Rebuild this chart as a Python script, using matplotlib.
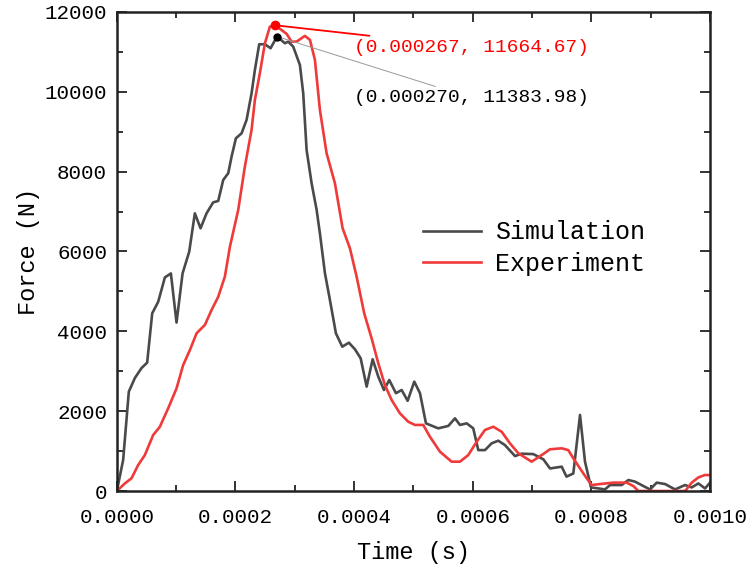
import matplotlib
matplotlib.use("Agg")
import matplotlib.pyplot as plt
from matplotlib.ticker import MultipleLocator, FormatStrFormatter

# ---- data ----
sim_t = [0.0, 0.0000106, 0.0000202, 0.0000304, 0.0000416, 0.0000511, 0.0000596, 0.0000697,
         0.000081, 0.0000911, 0.0001006, 0.0001108, 0.000122, 0.0001315, 0.0001411, 0.0001512,
         0.0001624, 0.0001709, 0.0001793, 0.0001878, 0.0001934, 0.0002007, 0.0002103, 0.0002187,
         0.0002271, 0.0002327, 0.00024, 0.0002496, 0.0002592, 0.00027, 0.0002833, 0.0002889,
         0.0002973, 0.0003086, 0.0003142, 0.0003199, 0.0003283, 0.0003368, 0.0003423, 0.0003508,
         0.0003592, 0.0003693, 0.00038, 0.0003912, 0.0004014, 0.000411, 0.0004211, 0.0004312,
         0.0004407, 0.0004503, 0.0004592, 0.0004705, 0.0004801, 0.0004902, 0.0005014, 0.000511,
         0.0005211, 0.0005418, 0.0005587, 0.00057, 0.0005784, 0.0005897, 0.0006008, 0.0006093,
         0.0006206, 0.0006318, 0.000643, 0.0006543, 0.0006712, 0.0006824, 0.000702, 0.0007189,
         0.0007302, 0.0007499, 0.000758, 0.0007695, 0.0007808, 0.0007892, 0.0007993, 0.0008117,
         0.0008229, 0.0008314, 0.0008511, 0.0008623, 0.0008735, 0.0008876, 0.0008988, 0.0009101,
         0.0009241, 0.000941, 0.0009578, 0.0009691, 0.0009803, 0.0009916, 0.001]
sim_f = [0, 775, 2490, 2830, 3080, 3215, 4450, 4740,
         5350, 5450, 4220, 5450, 5995, 6955, 6580, 6955,
         7230, 7265, 7790, 7960, 8375, 8835, 8960, 9295,
         9960, 10545, 11190, 11190, 11090, 11383.98, 11215, 11255,
         11130, 10670, 9960, 8540, 7710, 7040, 6455, 5455,
         4785, 3950, 3615, 3715, 3550, 3325, 2615, 3300,
         2865, 2530, 2780, 2450, 2530, 2260, 2740, 2450,
         1695, 1570, 1630, 1820, 1655, 1695, 1570, 1025,
         1025, 1195, 1260, 1150, 875, 935, 925, 795,
         565, 610, 360, 440, 1905, 735, 90, 65,
         40, 150, 150, 275, 235, 125, 40, 210,
         175, 40, 150, 90, 190, 65, 210]

exp_t = [0.0, 0.0000135, 0.0000248, 0.0000359, 0.0000472, 0.0000612, 0.0000725, 0.0000865,
         0.0001006, 0.0001118, 0.0001231, 0.0001344, 0.0001484, 0.0001597, 0.0001709, 0.0001821,
         0.0001906, 0.0002046, 0.0002158, 0.0002271, 0.0002327, 0.0002411, 0.0002496, 0.000258,
         0.000267, 0.0002862, 0.0002946, 0.000303, 0.000317, 0.0003255, 0.0003339, 0.0003423,
         0.0003536, 0.0003676, 0.0003806, 0.0003929, 0.0004042, 0.000417, 0.0004295, 0.0004407,
         0.0004519, 0.0004632, 0.0004772, 0.0004913, 0.0005025, 0.0005165, 0.0005278, 0.0005447,
         0.0005644, 0.0005784, 0.0005924, 0.0006066, 0.0006206, 0.0006346, 0.0006487, 0.0006627,
         0.0006768, 0.0006993, 0.0007162, 0.0007302, 0.0007499, 0.000761, 0.0007695, 0.0007808,
         0.000792, 0.0008005, 0.0008145, 0.0008369, 0.0008595, 0.0008707, 0.0008791, 0.000958,
         0.0009691, 0.0009803, 0.000991, 0.001]
exp_f = [0, 190, 320, 650, 900, 1400, 1610, 2070,
         2570, 3155, 3530, 3950, 4160, 4535, 4865, 5370,
         6120, 7040, 8125, 9045, 9795, 10465, 11215, 11630,
         11664.67, 11450, 11255, 11255, 11400, 11300, 10800, 9545,
         8460, 7710, 6580, 6080, 5370, 4450, 3825, 3200,
         2655, 2280, 1945, 1735, 1655, 1655, 1360, 985,
         735, 735, 900, 1235, 1530, 1610, 1485, 1195,
         945, 735, 900, 1045, 1070, 1025, 820, 565,
         320, 150, 175, 210, 210, 125, 0, 0,
         210, 340, 400, 400]

peak_exp = (0.000267, 11664.67)
peak_sim = (0.000270, 11383.98)
labels = ["Simulation", "Experiment"]

FONT = "Liberation Mono"
plt.rcParams["font.family"] = [FONT, "DejaVu Sans"]

fig = plt.figure(figsize=(7.49, 5.67), dpi=100)
ax = fig.add_axes([0.156, 0.134, 0.792, 0.845])

sim_color = "#4a4a4a"
exp_color = "#f03a3a"
ax.plot(sim_t, sim_f, color=sim_color, lw=1.9, label=labels[0])
ax.plot(exp_t, exp_f, color=exp_color, lw=1.9, label=labels[1])

ax.plot([peak_exp[0]], [peak_exp[1]], "o", color="#ff0000", ms=6, zorder=5)
ax.plot([peak_sim[0]], [peak_sim[1]], "o", color="black", ms=5, zorder=5)

ax.annotate("(%.6f, %.2f)" % peak_exp, xy=peak_exp, xytext=(0.000399, 11120),
            color="#ff0000", fontsize=14, ha="left", va="center",
            arrowprops=dict(arrowstyle="-", color="#ff0000", lw=1.3, shrinkA=0, shrinkB=0))
ax.annotate("(%.6f, %.2f)" % peak_sim, xy=peak_sim, xytext=(0.000399, 9850),
            color="black", fontsize=14, ha="left", va="center",
            arrowprops=dict(arrowstyle="-", color="#999999", lw=0.7, shrinkA=0, shrinkB=0))

ax.set_xlim(0, 0.001)
ax.set_ylim(0, 12000)
ax.xaxis.set_major_locator(MultipleLocator(0.0002))
ax.xaxis.set_minor_locator(MultipleLocator(0.0001))
ax.yaxis.set_major_locator(MultipleLocator(2000))
ax.yaxis.set_minor_locator(MultipleLocator(1000))
ax.xaxis.set_major_formatter(FormatStrFormatter("%.4f"))
ax.tick_params(which="both", direction="in", top=True, right=True, width=1.3, colors="#222222",
               labelsize=15)
ax.tick_params(which="major", length=7)
ax.tick_params(which="minor", length=4)
ax.tick_params(axis="x", which="major", pad=12)
ax.tick_params(axis="y", which="major", pad=7)
for lab in ax.get_xticklabels() + ax.get_yticklabels():
    lab.set_color("black")
for s in ax.spines.values():
    s.set_linewidth(1.8)
    s.set_color("#222222")

ax.set_xlabel("Time (s)", fontsize=17, labelpad=10)
ax.set_ylabel("Force (N)", fontsize=17, labelpad=3)

leg = ax.legend(loc="center left", bbox_to_anchor=(0.5, 0.507), frameon=False,
                fontsize=18, handlelength=2.3, handletextpad=0.55, labelspacing=0.3,
                borderaxespad=0)

fig.savefig("out.png", dpi=100, facecolor="white")
